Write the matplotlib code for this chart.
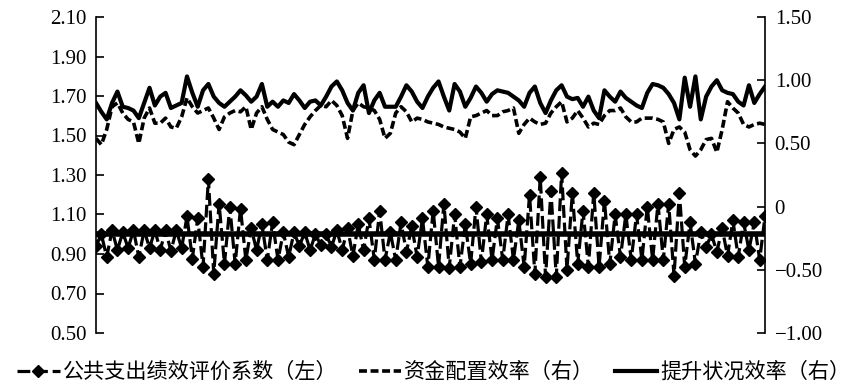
import matplotlib
matplotlib.use('Agg')
import matplotlib.pyplot as plt
from matplotlib.font_manager import FontProperties
import numpy as np

# Serien
coef_left = [
    0.94, 1.00, 0.885, 1.02, 0.92, 1.01, 0.93, 1.02, 0.885, 1.02,
    0.93, 1.02, 0.92, 1.02, 0.915, 1.02, 0.93, 1.09, 0.877, 1.08,
    0.835, 1.28, 0.80, 1.155, 0.85, 1.14, 0.85, 1.13, 0.87, 1.03,
    0.92, 1.05, 0.87, 1.06, 0.87, 1.01, 0.885, 1.01, 0.94, 1.01,
    0.92, 1.00, 0.945, 1.00, 0.935, 1.02, 0.92, 1.03, 0.89, 1.05,
    0.92, 1.08, 0.87, 1.12, 0.87, 1.01, 0.87, 1.06, 0.91, 1.04,
    0.885, 1.08, 0.835, 1.12, 0.835, 1.155, 0.83, 1.10, 0.835, 1.05,
    0.85, 1.14, 0.86, 1.10, 0.87, 1.08, 0.87, 1.10, 0.87, 1.07,
    0.835, 1.20, 0.80, 1.29, 0.785, 1.22, 0.785, 1.31, 0.82, 1.21,
    0.85, 1.12, 0.835, 1.21, 0.835, 1.17, 0.85, 1.10, 0.885, 1.10,
    0.87, 1.10, 0.87, 1.14, 0.87, 1.155, 0.87, 1.155, 0.79, 1.21,
    0.835, 1.06, 0.85, 1.01, 0.935, 1.00, 0.91, 1.03, 0.89, 1.07,
    0.885, 1.06, 0.92, 1.06, 0.87, 1.09,
]
alloc_right = [
    0.54, 0.49, 0.61, 0.79, 0.82, 0.74, 0.69, 0.67, 0.50, 0.70,
    0.78, 0.66, 0.66, 0.70, 0.63, 0.62, 0.71, 0.86, 0.79, 0.74,
    0.76, 0.78, 0.70, 0.61, 0.71, 0.74, 0.76, 0.75, 0.79, 0.61,
    0.74, 0.79, 0.69, 0.61, 0.59, 0.57, 0.51, 0.49, 0.57, 0.65,
    0.71, 0.76, 0.80, 0.79, 0.84, 0.80, 0.72, 0.54, 0.76, 0.82,
    0.79, 0.78, 0.76, 0.69, 0.54, 0.58, 0.74, 0.79, 0.75, 0.67,
    0.70, 0.69, 0.67, 0.66, 0.65, 0.63, 0.62, 0.61, 0.59, 0.54,
    0.71, 0.72, 0.74, 0.76, 0.72, 0.72, 0.75, 0.76, 0.78, 0.58,
    0.65, 0.70, 0.67, 0.65, 0.66, 0.74, 0.79, 0.83, 0.67, 0.70,
    0.76, 0.70, 0.63, 0.66, 0.65, 0.72, 0.76, 0.76, 0.78, 0.71,
    0.67, 0.67, 0.70, 0.70, 0.70, 0.69, 0.67, 0.50, 0.61, 0.63,
    0.59, 0.45, 0.40, 0.45, 0.53, 0.54, 0.43, 0.61, 0.83, 0.78,
    0.74, 0.65, 0.63, 0.65, 0.66, 0.65,
]
improve_right = [
    0.82, 0.75, 0.69, 0.82, 0.91, 0.79, 0.78, 0.76, 0.70, 0.82,
    0.94, 0.80, 0.87, 0.90, 0.78, 0.80, 0.82, 1.03, 0.90, 0.79,
    0.92, 0.97, 0.87, 0.82, 0.79, 0.83, 0.87, 0.92, 0.88, 0.83,
    0.87, 0.97, 0.79, 0.83, 0.79, 0.84, 0.82, 0.89, 0.84, 0.78,
    0.83, 0.84, 0.80, 0.87, 0.95, 0.99, 0.92, 0.82, 0.76, 0.90,
    0.96, 0.74, 0.84, 0.90, 0.79, 0.79, 0.79, 0.87, 0.96, 0.91,
    0.83, 0.78, 0.87, 0.94, 0.99, 0.87, 0.76, 0.97, 0.91, 0.79,
    0.86, 0.95, 0.90, 0.83, 0.89, 0.92, 0.91, 0.90, 0.87, 0.84,
    0.79, 0.90, 0.95, 0.82, 0.74, 0.84, 0.92, 0.96, 0.87, 0.85,
    0.86, 0.79, 0.87, 0.76, 0.70, 0.92, 0.87, 0.83, 0.91, 0.86,
    0.83, 0.80, 0.78, 0.90, 0.97, 0.96, 0.94, 0.89, 0.82, 0.69,
    1.02, 0.79, 1.03, 0.69, 0.87, 0.95, 1.00, 0.92, 0.90, 0.89,
    0.83, 0.80, 0.96, 0.82, 0.89, 0.95,
]
series_labels = ['公共支出绩效评价系数（左）', '资金配置效率（右）', '提升状况效率（右）']
baseline = 1.0

left_ticks = [0.50, 0.70, 0.90, 1.10, 1.30, 1.50, 1.70, 1.90, 2.10]
left_tick_labels = ['0.50', '0.70', '0.90', '1.10', '1.30', '1.50', '1.70', '1.90', '2.10']
right_ticks = [-1.00, -0.50, 0.00, 0.50, 1.00, 1.50]
right_tick_labels = ['\u22121.00', '\u22120.50', '0', '0.50', '1.00', '1.50']


def draw_chart(out_file):
    """
        Zeichnet das Diagramm mit zwei y-Achsen und speichert es als PNG

        Args:
            out_file (str): Pfad der Ausgabedatei
    """
    plt.rcParams['font.family'] = ['Liberation Serif', 'Noto Sans CJK SC']

    fig = plt.figure(figsize=(8.51, 3.86), dpi=100)
    ax = fig.add_axes([96 / 851, 1 - 333 / 386, (765 - 96) / 851, (333 - 17) / 386])
    ax2 = ax.twinx()

    x = np.arange(len(coef_left))

    # Bezugslinie und linke Serie
    ax.axhline(baseline, color='black', lw=4, zorder=2)
    l1, = ax.plot(x, coef_left, color='black', lw=2.3, ls=(0, (4, 1.5)),
                  marker='D', ms=6.5, zorder=3)

    # Rechte Serien
    l2, = ax2.plot(x, alloc_right, color='black', lw=2.6, ls=(0, (2.2, 1.0)))
    l3, = ax2.plot(x, improve_right, color='black', lw=3.0)

    ax.set_xlim(0, len(coef_left) - 1)
    ax.set_ylim(0.5, 2.1)
    ax2.set_ylim(-1.0, 1.5)

    ax.set_yticks(left_ticks)
    ax.set_yticklabels(left_tick_labels)
    ax2.set_yticks(right_ticks)
    ax2.set_yticklabels(right_tick_labels)

    # Rahmen: nur linke und rechte Achse
    for a in (ax, ax2):
        a.spines['top'].set_visible(False)
        a.spines['bottom'].set_visible(False)
    ax.spines['right'].set_visible(False)
    ax2.spines['left'].set_visible(False)
    ax.spines['left'].set_linewidth(1.2)
    ax2.spines['right'].set_linewidth(1.2)

    ax.tick_params(axis='x', bottom=False, labelbottom=False)
    ax.tick_params(axis='y', direction='in', length=6, width=1.2, labelsize=15, pad=7)
    ax2.tick_params(axis='y', direction='in', length=6, width=1.2, labelsize=15, pad=7)

    # Legende unter der Grafik
    fig.legend([l1, l2, l3], series_labels, loc='center', bbox_to_anchor=(0.51, 1 - 372 / 386),
               ncol=3, frameon=False, numpoints=1, handlelength=2.0, handletextpad=0.15,
               columnspacing=1.0, borderpad=0,
               prop=FontProperties(family=['Noto Sans CJK SC'], size=15.2))

    fig.savefig(out_file, dpi=100)


if __name__ == '__main__':
    draw_chart('out.png')
